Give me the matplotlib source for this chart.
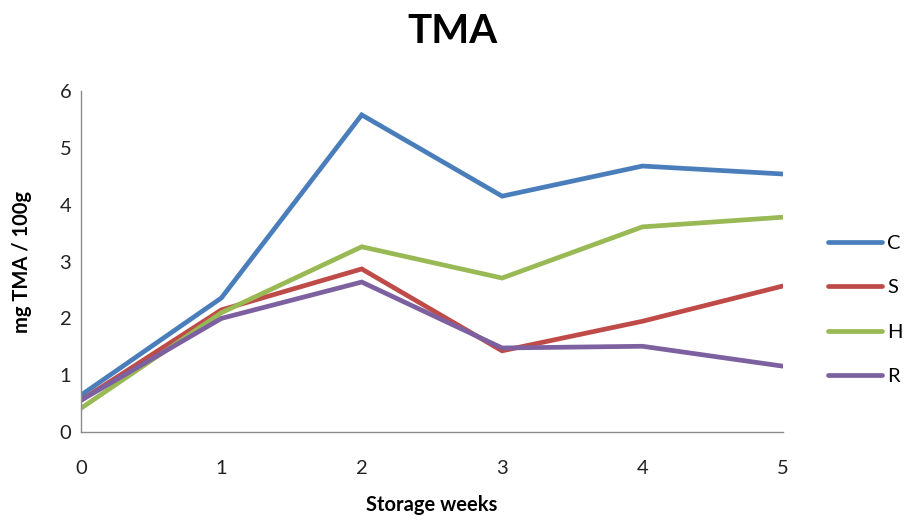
import matplotlib.pyplot as plt

plt.rcParams['font.family'] = ['Lato', 'DejaVu Sans']

weeks = [0, 1, 2, 3, 4, 5]
tma_c = [0.65, 2.36, 5.58, 4.15, 4.68, 4.54]
tma_s = [0.56, 2.15, 2.87, 1.43, 1.95, 2.57]
tma_h = [0.42, 2.10, 3.26, 2.71, 3.61, 3.78]
tma_r = [0.56, 2.00, 2.64, 1.48, 1.51, 1.16]

series = [("C", tma_c, "#4A7EBB"),
          ("S", tma_s, "#BE4B48"),
          ("H", tma_h, "#98B954"),
          ("R", tma_r, "#7D60A0")]

fig = plt.figure(figsize=(9.05, 5.2), dpi=100)
ax = fig.add_axes([0.0895, 0.169, 0.7755, 0.656])

for name, vals, col in series:
    ax.plot(weeks, vals, color=col, lw=3.4, label=name, solid_capstyle='round', solid_joinstyle='miter')

ax.set_xlim(0, 5)
ax.set_ylim(0, 6)
ax.set_xticks(weeks)
ax.set_yticks(range(0, 7))
ax.tick_params(length=0, labelsize=14.5, colors="#222222")
ax.tick_params(axis='x', pad=20)
ax.tick_params(axis='y', pad=7)
for s in ['top', 'right']:
    ax.spines[s].set_visible(False)
for s in ['left', 'bottom']:
    ax.spines[s].set_color("#8c8c8c")
    ax.spines[s].set_linewidth(1)

ax.set_xlabel("Storage weeks", fontsize=14.5, fontweight='bold', labelpad=13)
ax.set_ylabel("mg TMA / 100g", fontsize=14.5, fontweight='bold', labelpad=20)
fig.suptitle("TMA", fontsize=29, fontweight='bold', y=0.975)

ax.legend(loc='center left', bbox_to_anchor=(0.915, 0.404), bbox_transform=fig.transFigure,
          frameon=False, borderpad=0, borderaxespad=0,
          fontsize=14.5, handlelength=2.7, handletextpad=0.25, labelspacing=1.35)

fig.savefig("out.png", dpi=100)
